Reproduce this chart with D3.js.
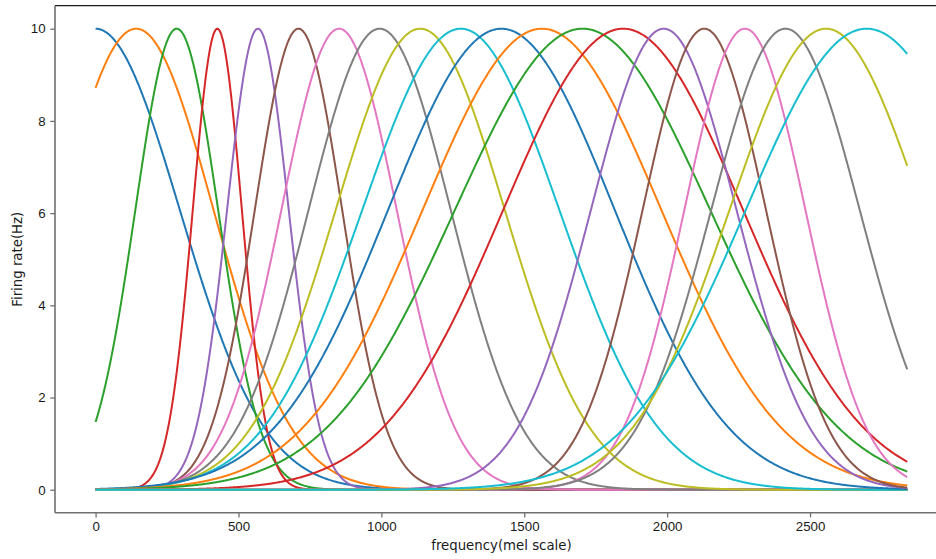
<!DOCTYPE html>
<html>
<head>
<meta charset="utf-8">
<script src="https://cdn.jsdelivr.net/npm/d3@7"></script>
<style>
  body { margin: 0; background: #fff; }
  svg { display: block; font-family: "DejaVu Sans", sans-serif; }
</style>
</head>
<body>
<svg id="chart" width="936" height="559"></svg>
<script>
// -----------
// DATOS
// -----------
// centro de cada neurona, en mel
const centros = [0, 142, 284, 426, 568, 710, 852, 994, 1136, 1278,
  1420, 1562, 1704, 1846, 1988, 2130, 2272, 2414, 2556, 2698];
// ancho (sigma) de cada curva, en mel
const anchos = [295, 271, 145, 86, 108, 153, 202, 249, 296, 345,
  397, 418, 447, 420, 255, 216, 212, 260, 338, 423];
const picoHz = 10;
const rangoMel = [0, 2840];
const ticksX = [0, 500, 1000, 1500, 2000, 2500];
const ticksY = [0, 2, 4, 6, 8, 10];
const colores = ['#1f77b4', '#ff7f0e', '#2ca02c', '#d62728', '#9467bd',
  '#8c564b', '#e377c2', '#7f7f7f', '#bcbd22', '#17becf'];

// -----------
// ESCALAS
// -----------
const svg = d3.select('#chart');
const margin = { left: 55, top: 5.65, right: 947.8, bottom: 512.8 };

const x = d3.scaleLinear().domain([-142, 2982]).range([margin.left, margin.right]);
const y = d3.scaleLinear().domain([-0.5, 10.5]).range([margin.bottom, margin.top]);

// curva de sintonia gaussiana de cada neurona
function curva(c, s) {
  const pts = [];
  const n = 1000;
  for (let i = 0; i <= n; i++) {
    const m = rangoMel[0] + (rangoMel[1] - rangoMel[0]) * i / n;
    pts.push([m, picoHz * Math.exp(-((m - c) * (m - c)) / (2 * s * s))]);
  }
  return pts;
}

const linea = d3.line()
  .x((d) => x(d[0]))
  .y((d) => y(d[1]));

const g = svg.append('g');
centros.forEach((c, i) => {
  g.append('path')
    .attr('d', linea(curva(c, anchos[i])))
    .attr('fill', 'none')
    .attr('stroke', colores[i % colores.length])
    .attr('stroke-width', 2)
    .attr('stroke-linejoin', 'round');
});

// -----------
// EJES
// -----------
const ejeX = svg.append('g')
  .attr('transform', `translate(0,${margin.bottom})`)
  .call(d3.axisBottom(x).tickValues(ticksX).tickFormat(d3.format('d'))
    .tickSize(4.7).tickSizeOuter(0).tickPadding(4.5));
const ejeY = svg.append('g')
  .attr('transform', `translate(${margin.left},0)`)
  .call(d3.axisLeft(y).tickValues(ticksY).tickFormat(d3.format('d'))
    .tickSize(4.7).tickSizeOuter(0).tickPadding(4.7));

[ejeX, ejeY].forEach((e) => {
  e.select('.domain').remove();
  e.selectAll('.tick line').attr('stroke', '#707070').attr('stroke-width', 1.3);
  e.selectAll('.tick text').attr('fill', '#1a1a1a').style('font-size', '13.3px');
});

// bordes
svg.append('line')
  .attr('x1', margin.left).attr('x2', margin.right)
  .attr('y1', margin.top).attr('y2', margin.top)
  .attr('stroke', '#1a1a1a').attr('stroke-width', 1.2);
svg.append('line')
  .attr('x1', margin.left).attr('x2', margin.right)
  .attr('y1', margin.bottom).attr('y2', margin.bottom)
  .attr('stroke', '#707070').attr('stroke-width', 1.6);
svg.append('line')
  .attr('x1', margin.left).attr('x2', margin.left)
  .attr('y1', margin.top).attr('y2', margin.bottom)
  .attr('stroke', '#707070').attr('stroke-width', 1.6);

// etiquetas
svg.append('text')
  .attr('x', (margin.left + margin.right) / 2)
  .attr('y', 549.5)
  .attr('text-anchor', 'middle')
  .attr('fill', '#1a1a1a')
  .style('font-size', '13.3px')
  .text('frequency(mel scale)');
svg.append('text')
  .attr('transform', `translate(21.5,${(margin.top + margin.bottom) / 2}) rotate(-90)`)
  .attr('text-anchor', 'middle')
  .attr('fill', '#1a1a1a')
  .style('font-size', '13.3px')
  .text('Firing rate(Hz)');
</script>
</body>
</html>
